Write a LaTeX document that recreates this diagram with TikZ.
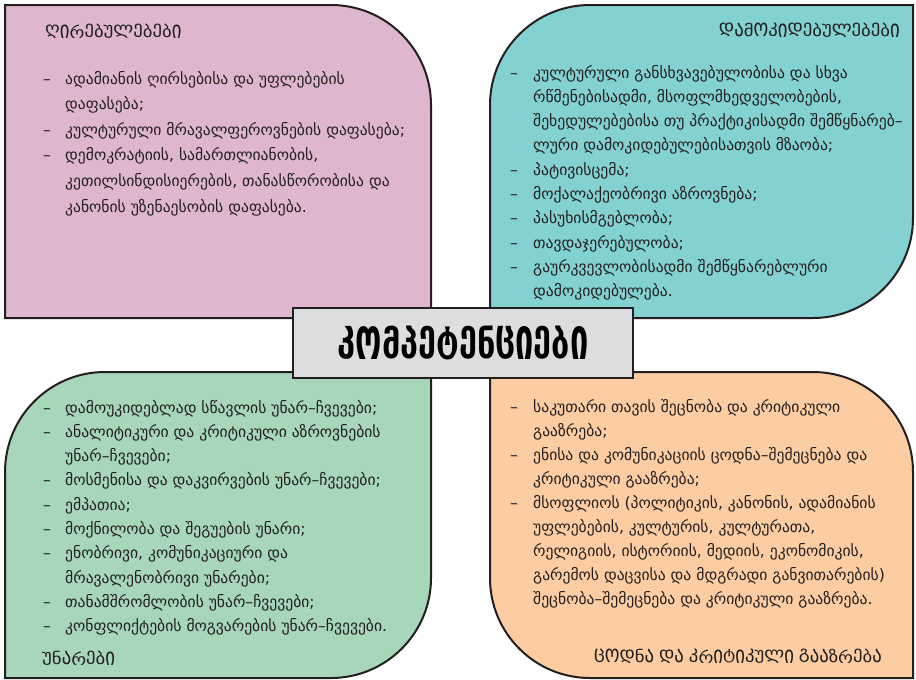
\documentclass[tikz,border=0pt]{standalone}
\usepackage{fontspec}
\usepackage{graphicx}
\setmainfont{DejaVu Sans}
\newfontfamily\titlefont{DejaVu Sans Condensed Bold}
\definecolor{pinkbox}{RGB}{223,182,207}
\definecolor{tealbox}{RGB}{132,209,210}
\definecolor{greenbox}{RGB}{167,214,185}
\definecolor{orangebox}{RGB}{252,205,162}
\definecolor{graybox}{RGB}{220,221,222}
\definecolor{ink}{RGB}{35,31,32}
\newsavebox\mtbox
\newlength\mtcap
\newcommand\mtxs{1.1}
\newcommand\mtone[1]{%
  \iffontchar\font\numexpr`#1+3008\relax
    \char\numexpr`#1+3008\relax
  \else
    \sbox\mtbox{#1}%
    \resizebox{\mtxs\wd\mtbox}{\mtcap}{\raisebox{\dp\mtbox}{#1}}%
  \fi}
\ExplSyntaxOn
\NewDocumentCommand\mtav{O{13.5pt}O{1.2}m}
  {\group_begin: \dim_set:Nn \mtcap {#1} \cs_set:Npn \mtxs {#2}
   \tl_map_function:nN {#3} \mtone \group_end:}
\ExplSyntaxOff
\tikzset{
  quad/.style={draw=ink, line width=2pt},
  head/.style={inner sep=0pt, text=ink, font=\fontsize{15.6}{18}\selectfont},
  body/.style={inner sep=0pt, text=ink, anchor=base west},
}
\begin{document}
\begin{tikzpicture}[x=1pt,y=-1pt]
\useasboundingbox (0,0) rectangle (916,680);
\fill[white] (0,0) rectangle (916,680);
% boxes
\path[quad, fill=pinkbox] (5,5) -- (331,5) .. controls (386.2,5) and (431,49.8) .. (431,105) -- (431,318) -- (5,318) -- cycle;
\path[quad, fill=tealbox] (490,105) .. controls (490,49.8) and (534.8,5) .. (590,5) -- (913,5) -- (913,218) .. controls (913,273.2) and (868.2,318) .. (813,318) -- (490,318) -- cycle;
\path[quad, fill=greenbox] (5,472) .. controls (5,416.8) and (49.8,372) .. (105,372) -- (431,372) -- (431,578) .. controls (431,633.2) and (386.2,678) .. (331,678) -- (5,678) -- cycle;
\path[quad, fill=orangebox] (490,372) -- (813,372) .. controls (868.2,372) and (913,416.8) .. (913,472) -- (913,678) -- (590,678) .. controls (534.8,678) and (490,633.2) .. (490,578) -- cycle;
% centre
\node[draw=ink, line width=2.5pt, fill=graybox, minimum width=340pt, minimum height=70pt, inner sep=0pt] (title) at (463,343)
  {\titlefont\fontsize{36}{40}\selectfont\mtav[33pt][1.0]{კომპეტენციები}};
% headers
\node[head, anchor=base west] (h1) at (45,38) {\mtav{ღირებულებები}};
\node[head, anchor=base east] (h2) at (900,37) {\mtav{დამოკიდებულებები}};
\node[head, anchor=base west] (h3) at (42,665) {\mtav{უნარები}};
\node[head, anchor=base east] (h4) at (882,663) {\mtav{ცოდნა} \mtav{და} \mtav{კრიტიკული} \mtav{გააზრება}};
% bodies
\node[body, font=\fontsize{15.6}{25.6}\selectfont] (t1) at (43,84) {%
\begin{tabular}[t]{@{}p{22pt}@{}l@{}}
–& ადამიანის ღირსებისა და უფლებების\\
 & დაფასება;\\
–& კულტურული მრავალფეროვნების დაფასება;\\
–& დემოკრატიის, სამართლიანობის,\\
 & კეთილსინდისიერების, თანასწორობისა და\\
 & კანონის უზენაესობის დაფასება.
\end{tabular}};
\node[body, font=\fontsize{15.6}{24.3}\selectfont] (t2) at (510,78) {%
\begin{tabular}[t]{@{}p{23pt}@{}l@{}}
–& კულტურული განსხვავებულობისა და სხვა\\
 & რწმენებისადმი, მსოფლმხედველობების,\\
 & შეხედულებებისა თუ პრაქტიკისადმი შემწყნარებ–\\
 & ლური დამოკიდებულებისათვის მზაობა;\\
–& პატივისცემა;\\
–& მოქალაქეობრივი აზროვნება;\\
–& პასუხისმგებლობა;\\
–& თავდაჯერებულობა;\\
–& გაურკვევლობისადმი შემწყნარებლური\\
 & დამოკიდებულება.
\end{tabular}};
\node[body, font=\fontsize{15.6}{24.3}\selectfont] (t3) at (43,413) {%
\begin{tabular}[t]{@{}p{22pt}@{}l@{}}
–& დამოუკიდებლად სწავლის უნარ–ჩვევები;\\
–& ანალიტიკური და კრიტიკული აზროვნების\\
 & უნარ–ჩვევები;\\
–& მოსმენისა და დაკვირვების უნარ–ჩვევები;\\
–& ემპათია;\\
–& მოქნილობა და შეგუების უნარი;\\
–& ენობრივი, კომუნიკაციური და\\
 & მრავალენობრივი უნარები;\\
–& თანამშრომლობის უნარ–ჩვევები;\\
–& კონფლიქტების მოგვარების უნარ–ჩვევები.
\end{tabular}};
\node[body, font=\fontsize{15.6}{24}\selectfont] (t4) at (510,412) {%
\begin{tabular}[t]{@{}p{23pt}@{}l@{}}
–& საკუთარი თავის შეცნობა და კრიტიკული\\
 & გააზრება;\\
–& ენისა და კომუნიკაციის ცოდნა–შემეცნება და\\
 & კრიტიკული გააზრება;\\
–& მსოფლიოს (პოლიტიკის, კანონის, ადამიანის\\
 & უფლებების, კულტურის, კულტურათა,\\
 & რელიგიის, ისტორიის, მედიის, ეკონომიკის,\\
 & გარემოს დაცვისა და მდგრადი განვითარების)\\
 & შეცნობა–შემეცნება და კრიტიკული გააზრება.
\end{tabular}};
\end{tikzpicture}
\end{document}
